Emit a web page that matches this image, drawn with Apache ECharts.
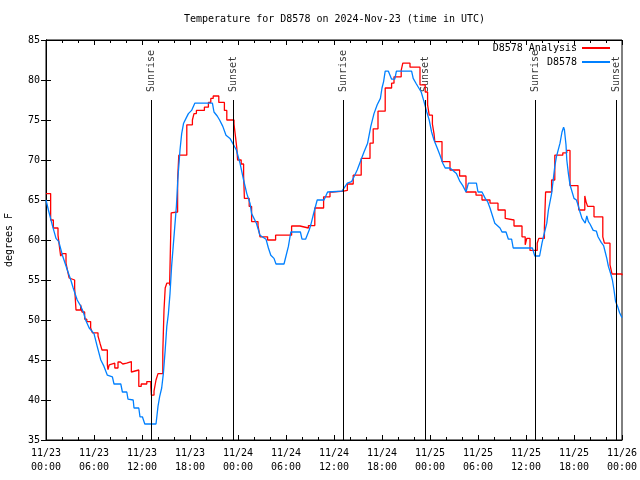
<!DOCTYPE html>
<html><head><meta charset="utf-8">
<script src="https://cdn.jsdelivr.net/npm/echarts@6/dist/echarts.min.js"></script>
<style>html,body{margin:0;padding:0;background:#fff}#c{width:640px;height:480px}</style>
</head><body><div id="c"></div>
<script>
// ---- data (hours since 2024-11-23 00:00 UTC, degrees F) ----
const titleText = 'Temperature for D8578 on 2024-Nov-23 (time in UTC)';
const analysisName = 'D8578 Analysis';
const obsName = 'D8578';
const analysisHours = [0,0.58,0.92,1.5,1.7,1.83,2.05,2.5,2.75,2.9,3.0,3.58,3.75,4.33,4.5,4.83,5.1,5.58,5.8,6.5,6.75,7.0,7.67,7.75,7.9,8.08,8.6,9.0,9.3,9.6,10.08,10.67,10.75,11.6,11.9,12.6,13.1,13.17,13.5,13.75,14.0,14.6,14.75,14.9,15.1,15.45,15.65,15.9,16.45,16.6,17.6,18.3,18.5,18.8,19.8,20.3,20.6,20.9,21.6,22.3,22.6,23.5,23.7,23.85,23.95,24.4,24.7,24.8,25.4,25.7,26.5,26.75,27.7,28.7,30.7,31.75,32.8,33.6,34.7,35.5,35.8,37.2,37.67,38.4,39.4,40.5,40.9,41.5,42.4,43.2,43.5,44.4,44.6,45.5,46.75,47.4,47.7,47.9,48.3,48.5,48.6,49.5,50.5,51.7,52.5,53.75,54.5,55.5,56.5,57.4,57.6,58.5,59.5,59.9,60.1,60.5,61.4,61.6,62.3,62.45,63.2,63.6,64.6,65.1,65.5,66.5,66.6,67.35,67.5,67.7,68.5,69.6,69.8,70.5,70.75,72];
const analysisTemps = [65.8,62.5,61.5,60.6,59.0,58.0,58.3,57.1,55.9,55.25,55.0,54.0,51.25,51.9,51.0,50.1,49.8,49.0,48.4,48.0,47.1,46.25,44.4,43.8,44.4,44.6,44.0,44.75,44.5,44.6,44.8,43.5,43.75,41.7,42.0,42.3,41.6,40.6,41.1,42.5,43.3,46.0,51.25,54.0,54.6,54.3,63.4,63.5,67.5,70.6,74.4,75.0,75.8,76.2,76.6,77.2,77.7,78.0,77.2,76.2,75.0,74.5,72.8,71.5,70.0,69.5,68.1,65.2,64.2,62.3,61.8,60.4,60.0,60.6,61.75,61.5,61.8,64.0,65.4,66.0,66.1,66.2,67.0,68.1,70.2,72.1,73.9,76.1,79.0,79.6,80.4,81.2,82.1,81.6,79.4,78.5,76.9,75.6,74.5,73.3,72.3,69.8,68.75,68.0,66.0,65.6,65.0,64.6,63.75,62.7,62.5,61.75,60.4,59.4,60.2,58.7,59.6,60.2,61.5,66.0,67.5,70.6,70.9,71.2,66.8,65.0,63.75,65.5,64.8,64.2,62.9,60.4,59.6,56.9,55.75,55.6];
const obsHours = [0,0.3,0.83,1.25,1.6,2.05,2.45,2.75,3.1,3.4,3.7,3.9,4.25,4.67,4.95,5.4,6.0,6.4,6.85,7.25,7.67,8.3,8.5,9.35,9.55,10.1,10.25,10.9,11.0,11.6,11.75,12.05,12.35,13.75,14.0,14.2,14.46,14.67,14.9,15.1,15.3,15.5,15.7,15.9,16.1,16.3,16.5,16.75,16.96,17.2,17.5,17.8,18.0,18.2,18.6,20.8,21.0,21.4,21.7,22.1,22.5,23.0,23.8,24.25,24.7,25.1,25.5,25.7,26.3,26.75,27.5,27.8,28.1,28.5,28.75,29.75,30.0,30.3,30.6,31.8,32.0,32.45,32.9,33.1,33.5,33.9,34.75,35.2,37.0,37.67,38.2,38.5,38.9,39.3,39.75,40.2,40.6,41.0,41.4,41.8,42.0,42.2,42.4,42.8,43.2,43.6,43.8,45.7,45.9,46.3,46.9,47.25,47.6,47.9,48.2,48.5,48.9,49.25,49.6,49.9,50.5,51.3,51.7,52.1,52.5,52.8,53.8,54.0,54.5,54.9,55.2,55.5,56.1,56.75,57.0,57.5,57.8,58.2,58.4,60.8,61.1,61.7,62.0,62.2,62.6,62.8,63.2,63.4,63.6,63.8,64.25,64.5,64.7,64.8,65.0,65.1,65.3,65.5,66.0,66.3,66.5,66.75,67.0,67.4,67.6,67.8,68.0,68.4,68.8,69.0,69.4,69.7,69.9,70.1,70.3,70.6,70.8,71.0,71.2,71.45,71.7,72];
const obsTemps = [65.0,63.75,61.7,60.2,59.8,58.1,56.9,56.0,55.0,54.0,53.1,52.5,51.9,51.0,50.0,49.0,48.3,46.7,45.0,44.2,43.1,42.9,42.0,42.0,41.0,41.0,40.1,40.0,39.0,39.0,37.9,37.9,37.0,37.0,39.2,40.4,41.5,43.3,46.25,49.2,50.8,53.3,56.7,59.2,61.7,64.2,67.9,71.25,73.3,74.6,75.2,75.8,75.6,76.2,77.1,77.1,76.0,75.5,75.0,74.2,73.1,72.7,71.25,69.6,67.5,65.8,64.6,63.3,62.1,60.6,60.1,59.0,58.1,57.7,57.0,57.0,58.0,59.2,61.0,61.0,60.1,60.1,61.25,61.9,63.5,65.0,65.0,66.0,66.1,67.1,67.3,67.9,68.75,69.8,71.0,72.1,74.2,75.8,76.9,77.7,79.0,79.8,81.1,81.1,80.1,80.1,81.1,81.1,80.2,79.5,78.5,77.3,76.0,75.0,73.5,72.5,71.5,70.6,69.6,69.0,69.0,68.3,67.4,66.8,66.0,67.1,67.1,66.0,66.0,65.2,64.8,64.0,62.1,61.5,61.0,61.0,60.1,60.1,59.0,59.0,58.0,58.0,59.6,60.5,62.1,63.75,65.8,67.5,69.2,70.4,72.1,73.5,74.1,73.8,71.9,70.0,68.3,66.9,65.2,65.0,64.4,63.5,62.7,62.1,63.0,62.3,62.0,61.2,61.1,60.4,59.7,59.3,58.5,57.7,56.7,55.75,55.0,53.75,52.3,51.7,50.9,50.3];
const sunNames = ['Sunrise','Sunset','Sunrise','Sunset','Sunrise','Sunset'];
const sunHours = [13.17,23.42,37.17,47.4,61.17,71.3];
const sunLineTop = 77.5;
const yMin = 35, yMax = 85, yStep = 5;
const xMin = 0, xMax = 72, xStep = 6;
const startDay = 23;

const FONT = 'DejaVu Sans Mono';
const zip = (a, b) => a.map((v, i) => [v, b[i]]);
const fmtX = v => {
  const d = startDay + Math.floor(v / 24);
  const h = v % 24;
  return '11/' + d + '\n' + String(h).padStart(2, '0') + ':00';
};
const xCommon = {
  type: 'value', min: xMin, max: xMax, interval: xStep,
  axisLine: {show: true, lineStyle: {color: '#000', width: 1}},
  axisTick: {show: true, inside: true, length: 5, lineStyle: {color: '#000'}},
  minorTick: {show: true, splitNumber: 3, length: 3, lineStyle: {color: '#000'}},
  splitLine: {show: false}
};
const yCommon = {
  type: 'value', min: yMin, max: yMax, interval: yStep,
  axisLine: {show: true, lineStyle: {color: '#000', width: 1}},
  axisTick: {show: true, inside: true, length: 5, lineStyle: {color: '#000'}},
  splitLine: {show: false}
};
const legendCommon = {
  orient: 'vertical', align: 'right', right: 30, padding: 0,
  itemWidth: 28, itemHeight: 2, icon: 'rect', selectedMode: false,
  textStyle: {fontFamily: FONT, fontSize: 10, color: '#000'}
};
const chart = echarts.init(document.getElementById('c'), null, {renderer: 'canvas'});
chart.setOption({
  animation: false,
  backgroundColor: '#fff',
  textStyle: {fontFamily: FONT, fontSize: 10, color: '#000'},
  title: {text: titleText, left: 184, top: 14, padding: 0,
    textStyle: {fontFamily: FONT, fontSize: 10, fontWeight: 'normal', color: '#000'}},
  legend: [
    Object.assign({}, legendCommon, {data: [analysisName], top: 43}),
    Object.assign({}, legendCommon, {data: [obsName], top: 57})
  ],
  grid: {left: 46, right: 18, top: 40, bottom: 40, show: true, borderColor: '#000', borderWidth: 1,
    containLabel: false, outerBoundsMode: 'none'},
  xAxis: [
    Object.assign({}, xCommon, {position: 'bottom',
      axisLabel: {formatter: fmtX, margin: 6, lineHeight: 14, color: '#000', fontFamily: FONT, fontSize: 10}}),
    Object.assign({}, xCommon, {position: 'top', axisLabel: {show: false}})
  ],
  yAxis: [
    Object.assign({}, yCommon, {position: 'left', name: 'degrees F', nameLocation: 'middle', nameGap: 32, nameRotate: 90,
      nameTextStyle: {fontFamily: FONT, fontSize: 10, color: '#000'},
      axisLabel: {margin: 6, color: '#000', fontFamily: FONT, fontSize: 10}}),
    Object.assign({}, yCommon, {position: 'right', axisLabel: {show: false}})
  ],
  series: [
    {
      name: 'sun', type: 'scatter', xAxisIndex: 0, yAxisIndex: 0, symbolSize: 0, silent: true,
      data: sunHours.map((h, i) => [h, sunLineTop, sunNames[i]]),
      label: {show: true, formatter: p => p.value[2], position: 'top', distance: 8, rotate: 90,
        align: 'left', verticalAlign: 'middle', fontFamily: FONT, fontSize: 10, color: '#000'},
      markLine: {silent: true, symbol: ['none', 'none'], animation: false, label: {show: false},
        lineStyle: {color: '#000', width: 1, type: 'solid'},
        data: sunHours.map(h => [{coord: [h, yMin]}, {coord: [h, sunLineTop]}])}
    },
    {
      name: analysisName, type: 'line', step: 'end', showSymbol: false, color: '#ff0000',
      lineStyle: {color: '#ff0000', width: 1.3}, data: zip(analysisHours, analysisTemps)
    },
    {
      name: obsName, type: 'line', showSymbol: false, color: '#0080ff',
      lineStyle: {color: '#0080ff', width: 1.3}, data: zip(obsHours, obsTemps)
    }
  ]
});
</script>
</body></html>
